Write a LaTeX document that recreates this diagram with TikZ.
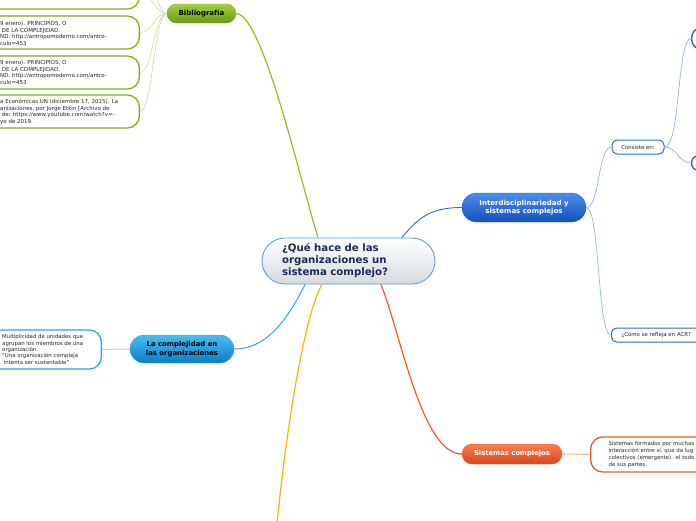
\documentclass[tikz,border=0pt]{standalone}
\usepackage{fontspec}
\setmainfont{DejaVu Sans}
\usetikzlibrary{positioning}
\definecolor{rootblue}{HTML}{5A9FD6}
\definecolor{rootgray}{HTML}{D5DADF}
\definecolor{rootink}{HTML}{1C2A55}
\definecolor{leafgray}{HTML}{262626}
\definecolor{mmgreen}{HTML}{8DC21F}
\definecolor{mmgreenlt}{HTML}{BCDC86}
\definecolor{mmgreentop}{HTML}{A2D040}
\definecolor{mmgreenbot}{HTML}{689A12}
\definecolor{mmblue}{HTML}{2A6AD0}
\definecolor{mmbluelt}{HTML}{8AB4EC}
\definecolor{mmbluetop}{HTML}{4C8CEA}
\definecolor{mmbluebot}{HTML}{1450BE}
\definecolor{mmcyan}{HTML}{2AA8E8}
\definecolor{mmcyanlt}{HTML}{A8D8F4}
\definecolor{mmcyantop}{HTML}{4CBCF2}
\definecolor{mmcyanbot}{HTML}{0A7EC6}
\definecolor{mmorange}{HTML}{F25A2A}
\definecolor{mmorangelt}{HTML}{F8B39A}
\definecolor{mmorangetop}{HTML}{F7804E}
\definecolor{mmorangebot}{HTML}{D8461A}
\definecolor{mmyellow}{HTML}{FFB300}

\begin{document}
\begin{tikzpicture}[
  x=1pt, y=-1pt,
  rootbox/.style={draw=rootblue,line width=0.9pt,rounded corners=23pt,
    top color=white,bottom color=rootgray,minimum width=173pt,
    minimum height=46pt,text width=133pt,inner xsep=20pt,align=left,
    text=rootink,font=\bfseries\fontsize{10.2}{12}\selectfont},
  pill/.style={inner sep=0pt,align=center,
    font=\bfseries\fontsize{7}{8.4}\selectfont},
  subbox/.style={draw=mmblue,line width=1pt,rounded corners=5pt,fill=white,
    inner sep=0pt,text=leafgray,font=\fontsize{5.4}{6}\selectfont},
  leafbox/.style={line width=1.3pt,rounded corners=12pt,fill=white,
    inner sep=0pt},
  leaftext/.style={inner sep=0pt,align=left,text=leafgray,
    font=\fontsize{5.5}{6.5}\selectfont},
  link/.style={line width=1.2pt},
  twig/.style={line width=0.5pt}
]
\useasboundingbox (0,0) rectangle (696,520);
\clip (0,0) rectangle (696,520);

% free end of the yellow branch
\coordinate (yel) at (277,524);

% central topic
\node[rootbox] (main) at (348.5,261)
  {¿Qué hace de las\\organizaciones un\\sistema complejo?};

% main branches
\node[pill,minimum width=69pt,minimum height=19pt,rounded corners=9.5pt,
  top color=mmgreentop,bottom color=mmgreenbot,text=black,
  draw=mmgreenbot!80,line width=0.4pt] (bib) at (201.5,13.5) {Bibliografía};
\node[pill,minimum width=124pt,minimum height=29pt,rounded corners=14.5pt,
  top color=mmbluetop,bottom color=mmbluebot,text=white,
  draw=mmblue,line width=0.4pt] (inter) at (524,207.5)
  {Interdisciplinariedad y\\sistemas complejos};
\node[pill,minimum width=104pt,minimum height=28pt,rounded corners=14pt,
  top color=mmcyantop,bottom color=mmcyanbot,text=black,
  draw=mmcyan,line width=0.4pt,font=\bfseries\fontsize{6.9}{8.6}\selectfont]
  (org) at (182,349) {La complejidad en\\las organizaciones};
\node[pill,minimum width=100pt,minimum height=20pt,rounded corners=10pt,
  top color=mmorangetop,bottom color=mmorangebot,text=white,
  draw=mmorange,line width=0.4pt,font=\bfseries\fontsize{6.8}{8}\selectfont]
  (sys) at (512,454) {Sistemas complejos};

% Main -> branches
\draw[link,mmgreen] ([xshift=-30.5pt]main.north)
  .. controls +(-18,-58) and +(26,0) .. (bib.east);
\draw[link,mmblue,line width=0.9pt] ([xshift=53.5pt]main.north)
  .. controls +(18,-23) and +(-27,0) .. (inter.west);
\draw[link,mmcyan,line width=1pt] ([xshift=-43.5pt]main.south)
  .. controls +(-20,40) and +(30,0) .. (org.east);
\draw[link,mmyellow] ([xshift=-26.5pt]main.south)
  .. controls +(-17,30) and +(10,-102) .. (yel);
\draw[link,mmorange] ([xshift=32.5pt]main.south)
  .. controls +(20,50) and +(-40,0) .. (sys.west);

% Bibliografia leaves (cut at the left edge)
\foreach \n/\y in {b0/-47.5,b1/-7.5,b2/32.5,b3/72.5,b4/111.5}{
  \node[leafbox,draw=mmgreen!90!black,minimum width=200pt,
    minimum height=33pt,anchor=east] (\n) at (140,\y) {};
  \draw[twig,mmgreenlt] (bib.west)
    .. controls +(-13,0) and +(13,0) .. (\n.east);
}
\node[leaftext,anchor=west] (b2t) at (0,33.5)
  {9 enero). PRINCIPIOS, O\\\ DE LA COMPLEJIDAD.\\ND. http://antropomoderno.com/antro-\\culo=453};
\node[leaftext,anchor=west] (b3t) at (0,72.5)
  {9 enero). PRINCIPIOS, O\\\ DE LA COMPLEJIDAD.\\ND. http://antropomoderno.com/antro-\\culo=453};
\node[leaftext,anchor=west] (b4t) at (0,112)
  {a Económicas UN (diciembre 17, 2015). La\\anizaciones, por Jorge Etkin [Archivo de\\\ de: https://www.youtube.com/watch?v=-\\yo de 2019.};

% Interdisciplinariedad -> sub topics
\node[subbox,minimum width=52pt,minimum height=14pt] (cons) at (638,147)
  {Consiste en:};
\node[subbox,minimum width=100pt,minimum height=14pt,anchor=west,
  text width=90pt,inner xsep=10pt,align=left] (acr) at (611,335)
  {¿Cómo se refleja en ACR?};
\node[subbox,line width=1.4pt,rounded corners=10pt,minimum width=60pt,
  minimum height=22pt,anchor=west] (cons1) at (691,38.5) {};
\node[subbox,line width=1.4pt,rounded corners=6pt,minimum width=60pt,
  minimum height=14pt,anchor=west] (cons2) at (691,163) {};

\draw[twig,mmbluelt,line width=0.7pt] (inter.east)
  .. controls +(14,0) and +(-14,0) .. (cons.west);
\draw[twig,mmbluelt,line width=0.7pt] (inter.east)
  .. controls +(14,0) and +(-14,0) .. (acr.west);
\draw[twig,mmbluelt,line width=0.7pt] (cons.east)
  .. controls +(16,0) and +(-14,0) .. (cons1.west);
\draw[twig,mmbluelt,line width=0.7pt] (cons.east)
  .. controls +(12,0) and +(-12,0) .. (cons2.west);

% La complejidad -> leaf
\node[leafbox,draw=mmcyan,minimum width=160pt,minimum height=39pt,
  anchor=east] (orgl) at (102,349.5) {};
\node[leaftext,anchor=west,font=\fontsize{5.4}{6.3}\selectfont] (orglt)
  at (2,349.5)
  {Multiplicidad de unidades que\\agrupan los miembros de una\\organización.\\``Una organización compleja\\\ intenta ser sustentable''};
\draw[twig,mmcyanlt,line width=1pt] (org.west) -- (orgl.east);

% Sistemas complejos -> leaf
\node[leafbox,draw=mmorange,minimum height=35pt,anchor=west,
  text width=130pt,inner xsep=18pt,align=left,text=leafgray,
  font=\fontsize{5.4}{7}\selectfont] (sysl) at (590,454.5)
  {Sistemas formados por muchas\\interacción entre sí, que da lug\\colectivos (emergente). el todo\\de sus partes.};
\draw[twig,mmorangelt,line width=1pt] (sys.east) -- (sysl.west);

\end{tikzpicture}
\end{document}
